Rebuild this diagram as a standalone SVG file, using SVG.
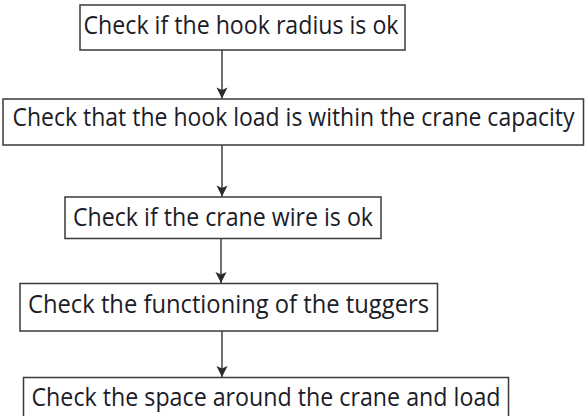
<svg xmlns="http://www.w3.org/2000/svg" width="585" height="416" viewBox="0 0 585 416">
  <defs>
    <marker id="head" viewBox="-1 -6 13 12" refX="11" refY="0" markerWidth="13" markerHeight="12" markerUnits="userSpaceOnUse" orient="auto">
      <path d="M0,-5.5 L11,0 L0,5.5 L2.5,0 Z" fill="#2b2b2b"/>
    </marker>
  </defs>
  <style>
    .box { fill: #ffffff; stroke: #3a3a3a; stroke-width: 1.5; }
    .label { font-family: "Open Sans", "Noto Sans", "DejaVu Sans", sans-serif; font-size: 26px; fill: #1c1c28; text-anchor: middle; }
    .link { fill: none; stroke: #333333; stroke-width: 1.4; marker-end: url(#head); }
  </style>
  <rect width="585" height="416" fill="#ffffff"/>

  <g id="connectors">
    <line class="link" x1="222" y1="50" x2="222" y2="98.5"/>
    <line class="link" x1="222" y1="145" x2="222" y2="196.5"/>
    <line class="link" x1="221" y1="238.5" x2="221" y2="283"/>
    <line class="link" x1="222" y1="331" x2="222" y2="377"/>
  </g>

  <g id="step-hook-radius">
    <rect class="box" x="80" y="5" width="325" height="45"/>
    <text class="label" x="241" y="34" textLength="315" lengthAdjust="spacingAndGlyphs">Check if the hook radius is ok</text>
  </g>

  <g id="step-hook-load">
    <rect class="box" x="3" y="99" width="580.5" height="46"/>
    <text class="label" x="293.5" y="126" textLength="562" lengthAdjust="spacingAndGlyphs">Check that the hook load is within the crane capacity</text>
  </g>

  <g id="step-crane-wire">
    <rect class="box" x="65" y="197" width="316" height="41.5"/>
    <text class="label" x="223" y="226" textLength="300" lengthAdjust="spacingAndGlyphs">Check if the crane wire is ok</text>
  </g>

  <g id="step-tuggers">
    <rect class="box" x="20" y="283.5" width="417.5" height="47.5"/>
    <text class="label" x="228.5" y="313" textLength="401" lengthAdjust="spacingAndGlyphs">Check the functioning of the tuggers</text>
  </g>

  <g id="step-space">
    <rect class="box" x="23.5" y="377.5" width="485" height="45"/>
    <text class="label" x="266" y="406" textLength="469" lengthAdjust="spacingAndGlyphs">Check the space around the crane and load</text>
  </g>
</svg>
